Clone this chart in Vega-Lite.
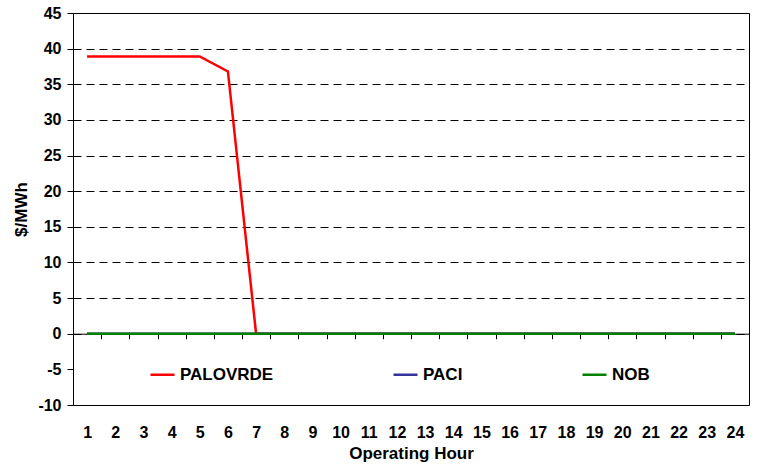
{
  "$schema": "https://vega.github.io/schema/vega-lite/v6.json",
  "width": 676,
  "height": 392,
  "autosize": {"type": "none"},
  "padding": {"left": 73, "top": 13, "right": 8, "bottom": 68},
  "background": "white",
  "config": {
    "view": {"stroke": "#000", "strokeWidth": 1},
    "font": "Liberation Sans"
  },
  "data": {"values": [
    {"hour":1,"series":"PALOVRDE","price":38.9},{"hour":2,"series":"PALOVRDE","price":38.9},{"hour":3,"series":"PALOVRDE","price":38.9},{"hour":4,"series":"PALOVRDE","price":38.9},{"hour":5,"series":"PALOVRDE","price":38.9},{"hour":6,"series":"PALOVRDE","price":36.8},{"hour":7,"series":"PALOVRDE","price":0},{"hour":8,"series":"PALOVRDE","price":0},{"hour":9,"series":"PALOVRDE","price":0},{"hour":10,"series":"PALOVRDE","price":0},{"hour":11,"series":"PALOVRDE","price":0},{"hour":12,"series":"PALOVRDE","price":0},{"hour":13,"series":"PALOVRDE","price":0},{"hour":14,"series":"PALOVRDE","price":0},{"hour":15,"series":"PALOVRDE","price":0},{"hour":16,"series":"PALOVRDE","price":0},{"hour":17,"series":"PALOVRDE","price":0},{"hour":18,"series":"PALOVRDE","price":0},{"hour":19,"series":"PALOVRDE","price":0},{"hour":20,"series":"PALOVRDE","price":0},{"hour":21,"series":"PALOVRDE","price":0},{"hour":22,"series":"PALOVRDE","price":0},{"hour":23,"series":"PALOVRDE","price":0},{"hour":24,"series":"PALOVRDE","price":0},
    {"hour":1,"series":"PACI","price":0},{"hour":2,"series":"PACI","price":0},{"hour":3,"series":"PACI","price":0},{"hour":4,"series":"PACI","price":0},{"hour":5,"series":"PACI","price":0},{"hour":6,"series":"PACI","price":0},{"hour":7,"series":"PACI","price":0},{"hour":8,"series":"PACI","price":0},{"hour":9,"series":"PACI","price":0},{"hour":10,"series":"PACI","price":0},{"hour":11,"series":"PACI","price":0},{"hour":12,"series":"PACI","price":0},{"hour":13,"series":"PACI","price":0},{"hour":14,"series":"PACI","price":0},{"hour":15,"series":"PACI","price":0},{"hour":16,"series":"PACI","price":0},{"hour":17,"series":"PACI","price":0},{"hour":18,"series":"PACI","price":0},{"hour":19,"series":"PACI","price":0},{"hour":20,"series":"PACI","price":0},{"hour":21,"series":"PACI","price":0},{"hour":22,"series":"PACI","price":0},{"hour":23,"series":"PACI","price":0},{"hour":24,"series":"PACI","price":0},
    {"hour":1,"series":"NOB","price":0},{"hour":2,"series":"NOB","price":0},{"hour":3,"series":"NOB","price":0},{"hour":4,"series":"NOB","price":0},{"hour":5,"series":"NOB","price":0},{"hour":6,"series":"NOB","price":0},{"hour":7,"series":"NOB","price":0},{"hour":8,"series":"NOB","price":0},{"hour":9,"series":"NOB","price":0},{"hour":10,"series":"NOB","price":0},{"hour":11,"series":"NOB","price":0},{"hour":12,"series":"NOB","price":0},{"hour":13,"series":"NOB","price":0},{"hour":14,"series":"NOB","price":0},{"hour":15,"series":"NOB","price":0},{"hour":16,"series":"NOB","price":0},{"hour":17,"series":"NOB","price":0},{"hour":18,"series":"NOB","price":0},{"hour":19,"series":"NOB","price":0},{"hour":20,"series":"NOB","price":0},{"hour":21,"series":"NOB","price":0},{"hour":22,"series":"NOB","price":0},{"hour":23,"series":"NOB","price":0},{"hour":24,"series":"NOB","price":0}
  ]},
  "mark": {"type": "line", "strokeWidth": 2.5},
  "encoding": {
    "x": {
      "field": "hour", "type": "ordinal", "bandPosition": 0.5,
      "scale": {"type": "band", "paddingInner": 0, "paddingOuter": 0},
      "axis": {
        "title": "Operating Hour", "labelAngle": 0, "offset": -71.3,
        "domainColor": "#000", "domainWidth": 1,
        "tickColor": "#000", "tickSize": 5, "tickBand": "extent",
        "labelPadding": 86, "labelFont": "Liberation Sans", "labelFontSize": 16, "labelFontWeight": "bold", "labelColor": "#000",
        "titleFont": "Liberation Sans", "titleFontSize": 17, "titleFontWeight": "bold", "titleColor": "#000",
        "titleY": 125, "titleBaseline": "alphabetic", "grid": false
      }
    },
    "y": {
      "field": "price", "type": "quantitative",
      "scale": {"domain": [-10, 45], "nice": false, "zero": false},
      "axis": {
        "title": "$/MWh", "values": [-10,-5,0,5,10,15,20,25,30,35,40,45],
        "labelExpr": "toString(datum.value)",
        "domainColor": "#000", "tickColor": "#000", "tickSize": 6, "labelPadding": 6,
        "labelFont": "Liberation Sans", "labelFontSize": 16, "labelFontWeight": "bold", "labelColor": "#000",
        "titleFont": "Liberation Sans", "titleFontSize": 17, "titleFontWeight": "bold", "titleColor": "#000",
        "titleX": -47, "titleBaseline": "alphabetic",
        "grid": true, "gridColor": "#000", "gridDash": [8, 5],
        "gridOpacity": {"condition": {"test": "datum.value === -5", "value": 0}, "value": 1}
      }
    },
    "color": {
      "field": "series", "type": "nominal",
      "scale": {"domain": ["PALOVRDE", "PACI", "NOB"], "range": ["#FF0000", "#333399", "#008000"]},
      "legend": {
        "title": null, "orient": "none", "direction": "horizontal",
        "legendX": 76, "legendY": 348, "padding": 0,
        "symbolType": "stroke", "symbolSize": 576, "symbolStrokeWidth": 2.5,
        "labelFont": "Liberation Sans", "labelFontSize": 17, "labelFontWeight": "bold", "labelColor": "#000",
        "labelOffset": 4, "columnPadding": 114
      }
    }
  }
}
